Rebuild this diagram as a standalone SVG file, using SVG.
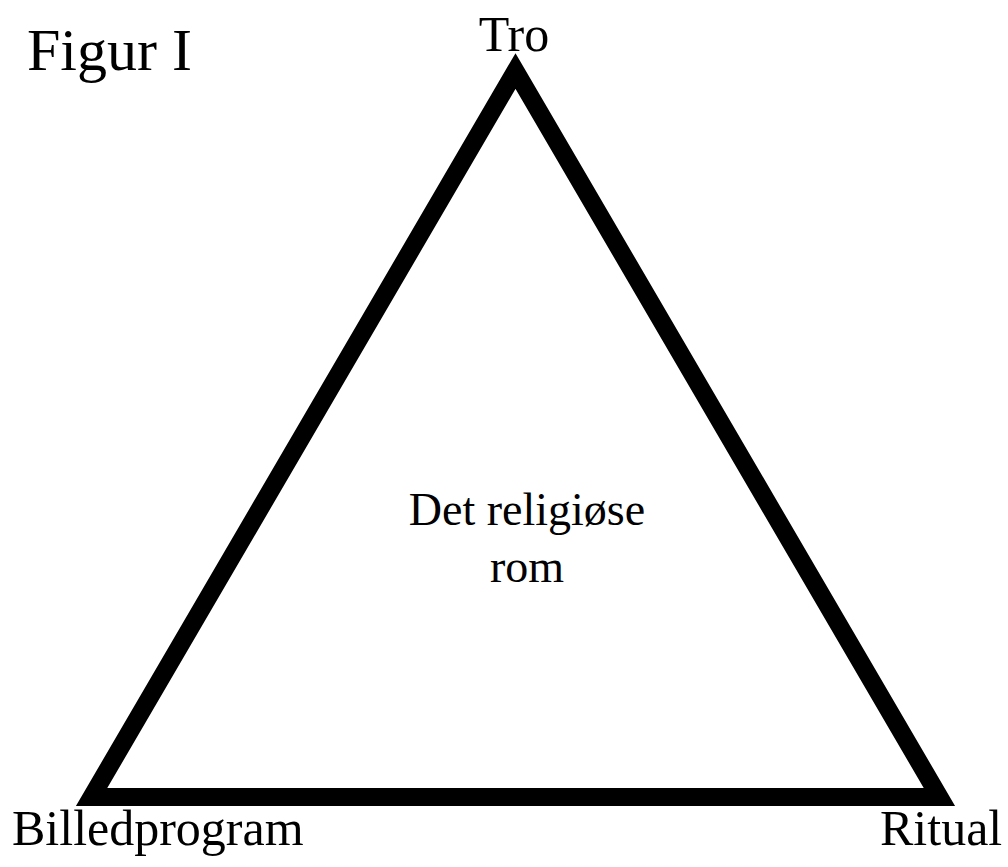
<svg xmlns="http://www.w3.org/2000/svg" width="1008" height="867" viewBox="0 0 1008 867">
<style>
text{font-family:"Liberation Serif","Times New Roman",serif;fill:#000}
</style>
<rect width="1008" height="867" fill="#fff"/>
<g id="connectors">
<polygon points="515.5,71 939.4,797 91.6,797" fill="none" stroke="#000" stroke-width="18" stroke-linejoin="miter" stroke-miterlimit="10"/>
</g>
<g id="title"><text x="27" y="70" font-size="60">Figur I</text></g>
<g id="tro"><text x="514" y="51" font-size="50" text-anchor="middle">Tro</text></g>
<g id="billedprogram"><text x="12" y="845" font-size="50">Billedprogram</text></g>
<g id="ritual"><text x="880" y="845" font-size="50">Ritual</text></g>
<g id="center"><text x="527" y="525" font-size="46" text-anchor="middle">Det religiøse</text><text x="527" y="582" font-size="46" text-anchor="middle">rom</text></g>
</svg>
